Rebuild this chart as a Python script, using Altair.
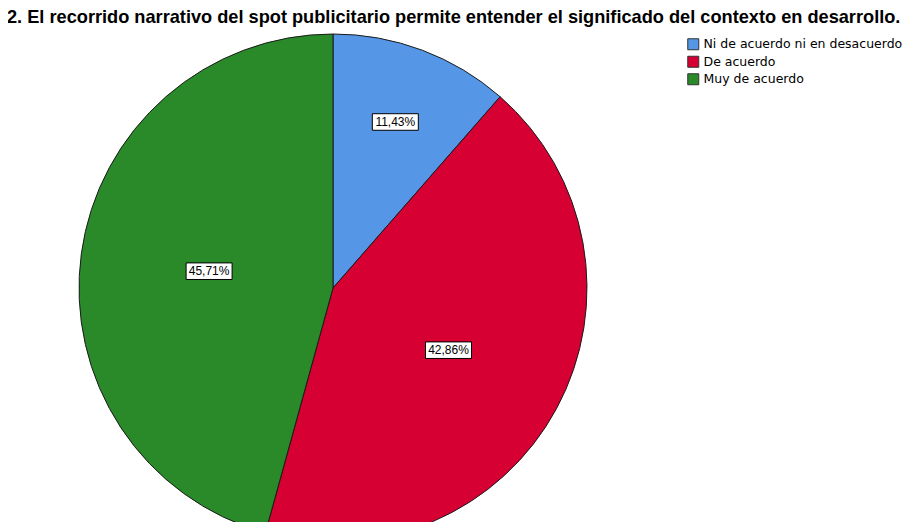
import math
import altair as alt
import pandas as pd

# ---- data ----
categorias = ["Ni de acuerdo ni en desacuerdo", "De acuerdo", "Muy de acuerdo"]
porcentajes = [11.43, 42.86, 45.71]
etiquetas = ["11,43%", "42,86%", "45,71%"]
colores = ["#5597E6", "#D60033", "#2A8A2A"]
titulo = "2. El recorrido narrativo del spot publicitario permite entender el significado del contexto en desarrollo."

# ---- layout ----
TOP = 27
W, H = 897, 514 - TOP
CX, CY = 325, 253
R = 254

# label positions derived from the slice angles (sector centroid)
tot = sum(porcentajes)
cum = 0.0
lx, ly = [], []
for p in porcentajes:
    a0 = cum / tot * 2 * math.pi
    a1 = (cum + p) / tot * 2 * math.pi
    mid = (a0 + a1) / 2
    half = (a1 - a0) / 2
    d = 2 * math.sin(half) / (3 * half) * R * 1.07
    lx.append(CX + d * math.sin(mid))
    ly.append(CY - d * math.cos(mid))
    cum += p

df = pd.DataFrame({
    "categoria": categorias,
    "pct": porcentajes,
    "etiqueta": etiquetas,
    "orden": list(range(len(categorias))),
    "lx": lx,
    "ly": ly,
})

color_scale = alt.Scale(domain=categorias, range=colores)

base = alt.Chart(df)

pie = base.mark_arc(radius=R, stroke="#1a1a1a", strokeWidth=1).encode(
    theta=alt.Theta("pct:Q", stack=True),
    color=alt.Color(
        "categoria:N",
        scale=color_scale,
        sort=categorias,
        legend=alt.Legend(
            title=None,
            orient="none",
            legendX=679,
            legendY=3,
            symbolType="square",
            symbolSize=121,
            symbolStrokeColor="#333333",
            symbolStrokeWidth=1,
            symbolOpacity=1,
            labelFont="DejaVu Sans",
            labelFontSize=12.5,
            labelColor="#000000",
            labelOffset=4,
            labelLimit=400,
            rowPadding=1.5,
            padding=0,
        ),
    ),
    order=alt.Order("orden:Q"),
    x=alt.value(CX),
    y=alt.value(CY),
)

xs = alt.Scale(domain=[0, W], range=[0, W], nice=False, zero=False)
ys = alt.Scale(domain=[0, H], range=[0, H], nice=False, zero=False)

boxes = base.mark_point(
    shape="M-1,-0.36L1,-0.36L1,0.36L-1,0.36Z",
    size=2116,
    filled=True,
    fill="#ffffff",
    stroke="#000000",
    strokeWidth=1,
    opacity=1,
).encode(
    x=alt.X("lx:Q", scale=xs, axis=None),
    y=alt.Y("ly:Q", scale=ys, axis=None),
)

labels = base.mark_text(
    font="Liberation Sans", fontSize=12, color="#000000", align="center", baseline="middle"
).encode(
    x=alt.X("lx:Q", scale=xs, axis=None),
    y=alt.Y("ly:Q", scale=ys, axis=None),
    text="etiqueta:N",
)

chart = (
    alt.layer(pie, boxes, labels)
    .properties(
        width=W,
        height=H,
        autosize=alt.AutoSizeParams(type="none"),
        padding={"left": 0, "top": TOP, "right": 0, "bottom": 0},
        title=alt.TitleParams(
            text=titulo,
            anchor="start",
            font="Liberation Sans",
            fontSize=18.2,
            fontWeight="bold",
            color="#000000",
            offset=5,
            dx=-1,
        ),
    )
    .configure_view(stroke=None)
)

chart.save("out.html", embed_options={"renderer": "svg", "actions": False})
